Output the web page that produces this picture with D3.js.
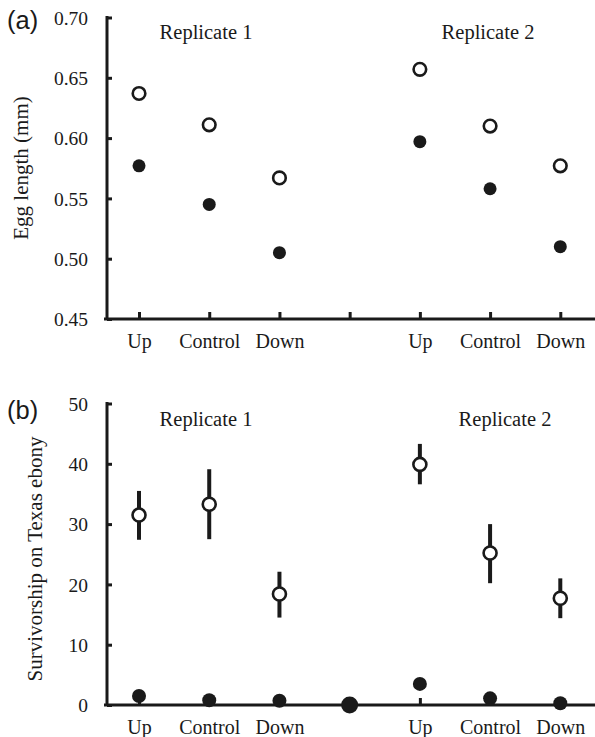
<!DOCTYPE html>
<html><head><meta charset="utf-8">
<script src="https://cdn.jsdelivr.net/npm/d3@7"></script>
<style>
body{margin:0;background:#fff;}
svg{display:block;}
</style></head>
<body>
<svg id="chart" width="595" height="737" font-family="Liberation Serif, Times New Roman, serif"></svg>
<script>
// ---- data ----
const categories = ["Up","Control","Down","","Up","Control","Down"];
const replicates = ["Replicate 1","Replicate 2"];
const eggTicks = [0.45,0.50,0.55,0.60,0.65,0.70];
const survTicks = [0,10,20,30,40,50];
// values at the six non-empty categories
const eggOpen   = [0.637,0.611,0.567,0.657,0.610,0.577];
const eggFilled = [0.577,0.545,0.505,0.597,0.558,0.510];
const survOpen   = [31.5,33.3,18.4,39.9,25.2,17.7];
const survOpenHi = [35.5,39.1,22.1,43.3,30.0,21.0];
const survOpenLo = [27.4,27.5,14.5,36.6,20.2,14.4];
const survFilled = [1.5,0.8,0.7,3.5,1.1,0.3];
const survGapFilled = [0];   // point drawn at the empty middle category

const ink = "#1a1a1a";
const serif = "Liberation Serif, Times New Roman, serif";
const sans = "Liberation Sans, Arial, sans-serif";
const svg = d3.select("#chart");
const pos = categories.map((c,i)=>c?i:null).filter(v=>v!==null);
const gapPos = categories.map((c,i)=>c?null:i).filter(v=>v!==null);

const x = d3.scaleLinear().domain([-0.456,6.48]).range([107,594]);

function styleText(sel, size, fam){
  sel.attr("font-family",fam||serif).attr("font-size",size).attr("fill",ink)
     .style("font-family",fam||serif).style("font-size",size+"px");
}

function panel(opt){
  const g = svg.append("g");
  const y = d3.scaleLinear().domain(opt.domain).range(opt.range);
  // y axis
  const ya = g.append("g").attr("transform","translate(107,0)")
    .call(d3.axisLeft(y).tickValues(opt.ticks).tickFormat(opt.fmt).tickSize(-5));
  ya.attr("font-family",null).attr("font-size",null);
  ya.select(".domain").remove();
  ya.selectAll(".tick line").attr("stroke",ink).attr("stroke-width",3);
  styleText(ya.selectAll(".tick text").attr("dy","0.34em").attr("x",-19), 19.5);
  g.append("line").attr("x1",107).attr("x2",107).attr("y1",opt.range[1]-1.5).attr("y2",opt.range[0])
    .attr("stroke",ink).attr("stroke-width",3);
  // x axis
  const xa = g.append("g").attr("transform",`translate(0,${opt.range[0]})`)
    .call(d3.axisBottom(x).tickValues(d3.range(categories.length)).tickFormat(i=>categories[i]).tickSize(-7).tickSizeOuter(0));
  xa.attr("font-family",null).attr("font-size",null);
  xa.select(".domain").remove();
  xa.selectAll(".tick line").attr("stroke",ink).attr("stroke-width",3);
  styleText(xa.selectAll(".tick text").attr("dy",0).attr("y",opt.catBase), 20);
  g.append("line").attr("x1",104).attr("x2",595).attr("y1",opt.range[0]).attr("y2",opt.range[0])
    .attr("stroke",ink).attr("stroke-width",3);
  // panel letter
  styleText(g.append("text").attr("x",7).attr("y",opt.letterBase).text(opt.letter), 25.5, sans);
  // axis title
  styleText(g.append("text").attr("transform",`translate(${opt.titleX},${opt.titleY}) rotate(-90)`)
    .attr("text-anchor","middle").text(opt.title), 21);
  // replicate labels
  styleText(g.selectAll(".rep").data(replicates).join("text")
    .attr("x",(d,i)=>opt.repX[i]).attr("y",opt.repBase).attr("text-anchor","middle")
    .text(d=>d), 20.5);
  return {g,y};
}

// Panel (a)
const A = panel({domain:[0.45,0.70], range:[319,17.5], ticks:eggTicks, fmt:d3.format(".2f"),
  catBase:29, letter:"(a)", letterBase:29, title:"Egg length (mm)", titleX:28, titleY:168,
  repX:[206,488], repBase:39});
A.g.selectAll(".eo").data(eggOpen).join("circle")
  .attr("cx",(d,i)=>x(pos[i])).attr("cy",d=>A.y(d)).attr("r",6.3)
  .attr("fill","#fff").attr("stroke",ink).attr("stroke-width",2.6);
A.g.selectAll(".ef").data(eggFilled).join("circle")
  .attr("cx",(d,i)=>x(pos[i])).attr("cy",d=>A.y(d)).attr("r",6.5).attr("fill",ink);

// Panel (b)
const B = panel({domain:[0,50], range:[705,403.5], ticks:survTicks, fmt:d3.format("d"),
  catBase:29, letter:"(b)", letterBase:419, title:"Survivorship on Texas ebony", titleX:42, titleY:559,
  repX:[206,505], repBase:426});
B.g.selectAll(".eb").data(survOpen).join("line")
  .attr("x1",(d,i)=>x(pos[i])).attr("x2",(d,i)=>x(pos[i]))
  .attr("y1",(d,i)=>B.y(survOpenHi[i])).attr("y2",(d,i)=>B.y(survOpenLo[i]))
  .attr("stroke",ink).attr("stroke-width",4);
B.g.selectAll(".so").data(survOpen).join("circle")
  .attr("cx",(d,i)=>x(pos[i])).attr("cy",d=>B.y(d)).attr("r",6.5)
  .attr("fill","#fff").attr("stroke",ink).attr("stroke-width",2.6);
B.g.selectAll(".sf").data(survFilled).join("circle")
  .attr("cx",(d,i)=>x(pos[i])).attr("cy",d=>B.y(d)).attr("r",7).attr("fill",ink);
B.g.selectAll(".sg").data(survGapFilled).join("circle")
  .attr("cx",(d,i)=>x(gapPos[i])).attr("cy",d=>B.y(d)).attr("r",8.5).attr("fill",ink);
</script>
</body></html>
